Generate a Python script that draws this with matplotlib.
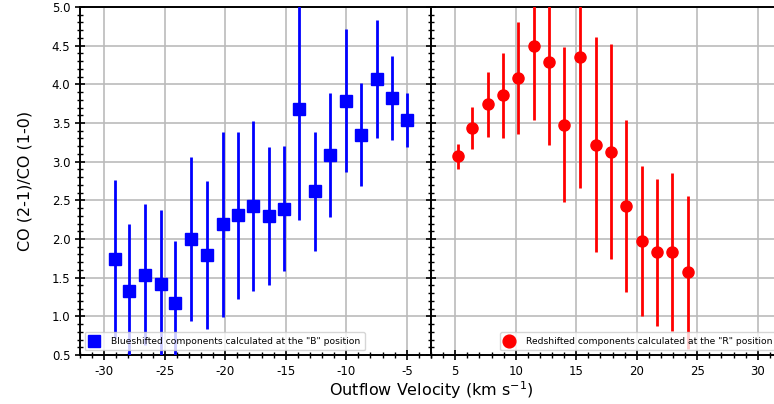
import matplotlib
matplotlib.use("Agg")
import matplotlib.pyplot as plt
from matplotlib.ticker import MultipleLocator

plt.rcParams['axes.unicode_minus'] = False

# Blueshifted components ("B" position)
blue_v = [-29.14, -27.93, -26.63, -25.33, -24.12, -22.82, -21.52, -20.20, -18.98, -17.68,
          -16.39, -15.17, -13.87, -12.57, -11.36, -10.06, -8.76, -7.46, -6.25, -4.95]
blue_ratio = [1.74, 1.33, 1.54, 1.42, 1.17, 2.00, 1.79, 2.19, 2.31, 2.43,
              2.30, 2.39, 3.68, 2.62, 3.09, 3.79, 3.35, 4.07, 3.82, 3.54]
blue_err = [1.02, 0.86, 0.91, 0.96, 0.80, 1.06, 0.96, 1.20, 1.08, 1.10,
            0.89, 0.81, 1.43, 0.77, 0.80, 0.93, 0.67, 0.76, 0.54, 0.35]

# Redshifted components ("R" position)
red_v = [5.19, 6.38, 7.70, 8.99, 10.20, 11.52, 12.79, 13.97, 15.29, 16.61,
         17.87, 19.11, 20.41, 21.67, 22.91, 24.20]
red_ratio = [3.07, 3.44, 3.74, 3.86, 4.08, 4.50, 4.29, 3.48, 4.35, 3.22,
             3.13, 2.43, 1.97, 1.83, 1.83, 1.57]
red_err = [0.16, 0.27, 0.42, 0.55, 0.72, 0.96, 1.08, 1.00, 1.69, 1.39,
           1.39, 1.11, 0.97, 0.95, 1.02, 0.99]

blue_label = 'Blueshifted components calculated at the "B" position'
red_label = 'Redshifted components calculated at the "R" position'

fig = plt.figure(figsize=(7.74, 4.04), dpi=100)
W, H = 774.0, 404.0
ax1 = fig.add_axes([80 / W, 1 - 355 / H, 351 / W, 348 / H])
ax2 = fig.add_axes([431 / W, 1 - 355 / H, 351 / W, 348 / H])

ax1.errorbar(blue_v, blue_ratio, yerr=blue_err, fmt='s', color='blue', ecolor='blue',
             elinewidth=2.0, markersize=8, capsize=0, label=blue_label, zorder=3)
ax2.errorbar(red_v, red_ratio, yerr=red_err, fmt='o', color='red', ecolor='red',
             elinewidth=2.0, markersize=8, capsize=0, label=red_label, zorder=3)

for ax in (ax1, ax2):
    ax.set_ylim(0.5, 5.0)
    ax.yaxis.set_major_locator(MultipleLocator(0.5))
    ax.yaxis.set_minor_locator(MultipleLocator(0.1))
    ax.xaxis.set_major_locator(MultipleLocator(5))
    ax.xaxis.set_minor_locator(MultipleLocator(1))
    ax.grid(True, which='major', color='#bbbbbb', linewidth=1.2, zorder=0)
    ax.set_axisbelow(True)
    ax.tick_params(which='major', direction='inout', length=7, width=1.2, labelsize=8.5)
    ax.tick_params(which='minor', direction='inout', length=4, width=1.0)
    for s in ax.spines.values():
        s.set_linewidth(1.4)

ax1.set_xlim(-32, -3)
ax2.set_xlim(3, 32)
ax2.tick_params(axis='y', which='both', labelleft=False)
ax1.set_yticklabels(['%.1f' % v for v in ax1.get_yticks()])

leg_kw = dict(fontsize=6.6, handlelength=1.1, handletextpad=1.3, borderpad=0.5,
              framealpha=0.8, edgecolor='#cccccc', fancybox=True, numpoints=1,
              markerscale=1.15)
ax1.legend(loc='lower left', **leg_kw)
ax2.legend(loc='lower right', **leg_kw)

ax1.set_ylabel('CO (2-1)/CO (1-0)', fontsize=11.5, labelpad=14)
fig.text(431 / W, 1 - 390 / H, 'Outflow Velocity (km s$^{-1}$)', ha='center', va='center', fontsize=11.5)

fig.savefig('out.png', dpi=100)
